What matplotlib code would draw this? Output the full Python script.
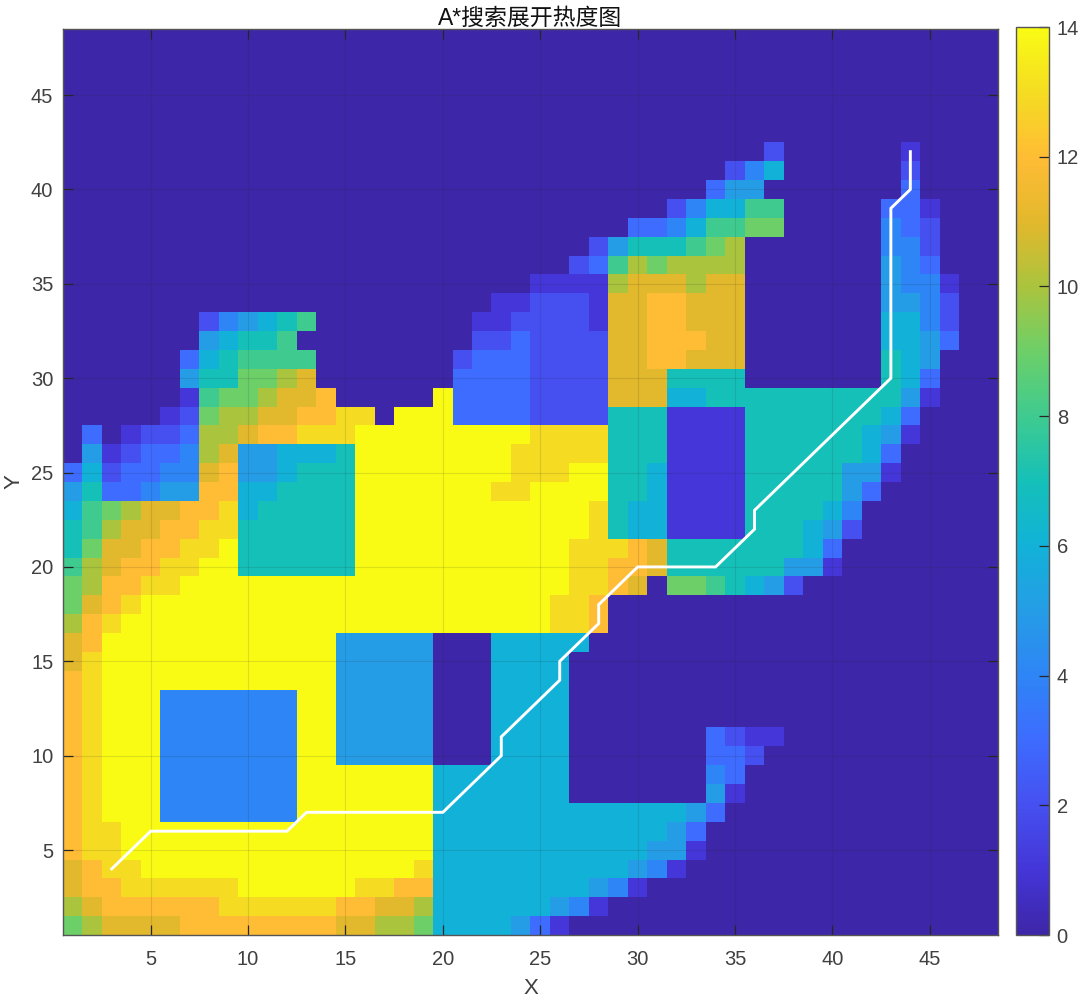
import matplotlib
matplotlib.use('Agg')
import matplotlib.pyplot as plt
import numpy as np
from matplotlib.colors import LinearSegmentedColormap

# values per cell, one char per cell (hex, E = 14), rows from Y=1 upward
# (first column of the row, cell values)
heat_rows = [
    (1, "9ABBBBCCCCCCCCBBAA96666531"),
    (1, "AB" + "CCCCCC" + "DDDDDD" + "CC" + "BB" + "A" + "666666" + "541"),
    (1, "BCC" + "DDDDDD" + "EEEEEE" + "DD" + "CC" + "66666666" + "541"),
    (1, "BCDD" + "E" * 14 + "D" + "6" * 10 + "541"),
    (1, "CDD" + "E" * 16 + "6" * 11 + "551"),
    (1, "CDD" + "E" * 16 + "6" * 12 + "53"),
    (1, "CDEEE" + "4" * 7 + "E" * 7 + "6" * 13 + "53"),
    (1, "CDEEE" + "4" * 7 + "E" * 7 + "6" * 7 + "0" * 7 + "51"),
    (1, "CDEEE" + "4" * 7 + "E" * 7 + "6" * 7 + "0" * 7 + "43"),
    (1, "CDEEE" + "4" * 7 + "EE" + "55555" + "000" + "6666" + "0" * 7 + "332"),
    (1, "CDEEE" + "4" * 7 + "EE" + "55555" + "000" + "6666" + "0" * 7 + "3211"),
    (1, "CDEEE" + "4" * 7 + "EE" + "55555" + "000" + "6666"),
    (1, "CDEEE" + "4" * 7 + "EE" + "55555" + "000" + "6666"),
    (1, "CD" + "E" * 12 + "55555" + "000" + "6666"),
    (1, "BD" + "E" * 12 + "55555" + "000" + "6666"),
    (1, "BC" + "E" * 12 + "55555" + "000" + "66666"),
    (1, "ACD" + "E" * 22 + "DDC"),
    (1, "9BCD" + "E" * 21 + "DDC"),
    (1, "9ACCDD" + "E" * 20 + "DDCB" + "0" + "99" + "8" + "7" + "6" + "5" + "2"),
    (1, "8ABCCDDEE" + "7" * 6 + "E" * 11 + "DDCCB" + "7" * 6 + "551"),
    (1, "79BBCCDDE" + "7" * 6 + "E" * 11 + "DDDCB" + "7" * 7 + "63"),
    (1, "78ABBCCDD" + "7" * 6 + "E" * 12 + "D766" + "1111" + "777" + "652"),
    (1, "689ABBCCD" + "6" + "7" * 5 + "E" * 12 + "D766" + "1111" + "7777" + "64"),
    (1, "57334" + "55CC" + "66" + "7777" + "E" * 7 + "DDEEEE" + "776" + "1111" + "7" * 5 + "53"),
    (1, "36233" + "44BC" + "556" + "777" + "E" * 8 + "DDDEE" + "776" + "1111" + "7" * 5 + "551"),
    (1, "05" + "12334AB" + "55666" + "7" + "E" * 8 + "D" * 5 + "777" + "1111" + "7" * 6 + "63"),
    (1, "03012" + "23AAB" + "CCDDD" + "E" * 9 + "DDDD" + "777" + "1111" + "7" * 6 + "651"),
    (6, "129AABBCCDD" + "0" + "EEE" + "3333" + "2222" + "777" + "1111" + "7" * 7 + "63"),
    (7, "18" + "99ABBC" + "0" * 5 + "E" + "3333" + "2222" + "BBB" + "66" + "7" * 10 + "51"),
    (7, "57799AB" + "0" * 7 + "3333" + "2222" + "BBB" + "7777" + "0" * 7 + "763"),
    (7, "3678888" + "0" * 7 + "2333" + "2222" + "BBCCBBB" + "0" * 7 + "765"),
    (8, "56778" + "0" * 9 + "223" + "2222" + "BBCCCBB" + "0" * 7 + "6653"),
    (8, "245678" + "0" * 8 + "112" + "2221" + "BBCCBBB" + "0" * 7 + "6642"),
    (23, "112221" + "BBCCBBB" + "0" * 7 + "5542"),
    (25, "1111" + "ABBBABB" + "0" * 7 + "5441"),
    (27, "238A9AAAA" + "0" * 7 + "543"),
    (28, "2577789A" + "0" * 7 + "442"),
    (30, "33468899" + "0" * 5 + "432"),
    (32, "246688" + "0" * 5 + "331"),
    (34, "355" + "0" * 7 + "3"),
    (35, "246" + "0" * 6 + "2"),
    (37, "2" + "0" * 6 + "1"),
]

path_x = [3, 5, 12, 13, 20, 23, 23, 26, 26, 28, 28, 30, 34, 36, 36, 43, 43, 44, 44]
path_y = [4, 6, 6, 7, 7, 10, 11, 14, 15, 17, 18, 20, 20, 22, 23, 30, 39, 40, 42]

ticks_xy = [5, 10, 15, 20, 25, 30, 35, 40, 45]
ticks_cb = [0, 2, 4, 6, 8, 10, 12, 14]

# parula sampled at the integer values 0..14
parula_colors = ['#3e26a8', '#4436d8', '#4650f0', '#3d6cff', '#2e85f5',
                 '#259de6', '#12b2d8', '#15c0b8', '#3fcb90', '#6ccf68',
                 '#aac43e', '#e2b82c', '#ffbc35', '#f5dc22', '#f9fb15']
parula = LinearSegmentedColormap.from_list('parula', parula_colors, N=253)

grid = np.zeros((48, 48))
for r, (start, cells) in enumerate(heat_rows):
    for i, c in enumerate(cells):
        grid[r, start - 1 + i] = int(c, 16)

plt.rcParams['font.family'] = ['Liberation Sans', 'Noto Sans CJK SC']
dark = '#404040'

W, H = 1080, 997
fig = plt.figure(figsize=(W / 100, H / 100), dpi=100)
ax = fig.add_axes([63 / W, 1 - 935 / H, 935 / W, 906 / H])
im = ax.imshow(grid, origin='lower', extent=(0.5, 48.5, 0.5, 48.5), aspect='auto',
               cmap=parula, vmin=0, vmax=14, interpolation='nearest')
ax.plot(path_x, path_y, color='white', lw=2.1, solid_joinstyle='miter')

ax.set_xticks(ticks_xy)
ax.set_yticks(ticks_xy)
ax.tick_params(direction='in', length=7, width=0.9, top=True, right=True,
               color='#262626', labelcolor=dark, labelsize=14.5)
ax.tick_params(axis='x', pad=10.5)
ax.tick_params(axis='y', pad=7)
ax.grid(True, color='#262626', alpha=0.13, lw=0.8)
for s in ax.spines.values():
    s.set_color('#555555')
    s.set_linewidth(1.0)

ax.set_xlabel('X', fontsize=16, color=dark, va='center')
ax.set_ylabel('Y', fontsize=16, color=dark, va='center')
ax.xaxis.set_label_coords(0.5, -(988 - 935) / 906)
ax.yaxis.set_label_coords(-(63 - 14) / 935, 0.5)
ax.set_title('A*搜索展开热度图', fontsize=16.5, color='#111111', pad=3)

cax = fig.add_axes([1016 / W, 1 - 935 / H, 33 / W, 908 / H])
cb = fig.colorbar(im, cax=cax)
cb.set_ticks(ticks_cb)
cax.tick_params(direction='in', length=7, width=0.9, color='#262626', labelcolor=dark,
                labelsize=14.5, pad=5.5)
cb.outline.set_edgecolor('#555555')
cb.outline.set_linewidth(1.0)

fig.savefig('out.png', dpi=100)
